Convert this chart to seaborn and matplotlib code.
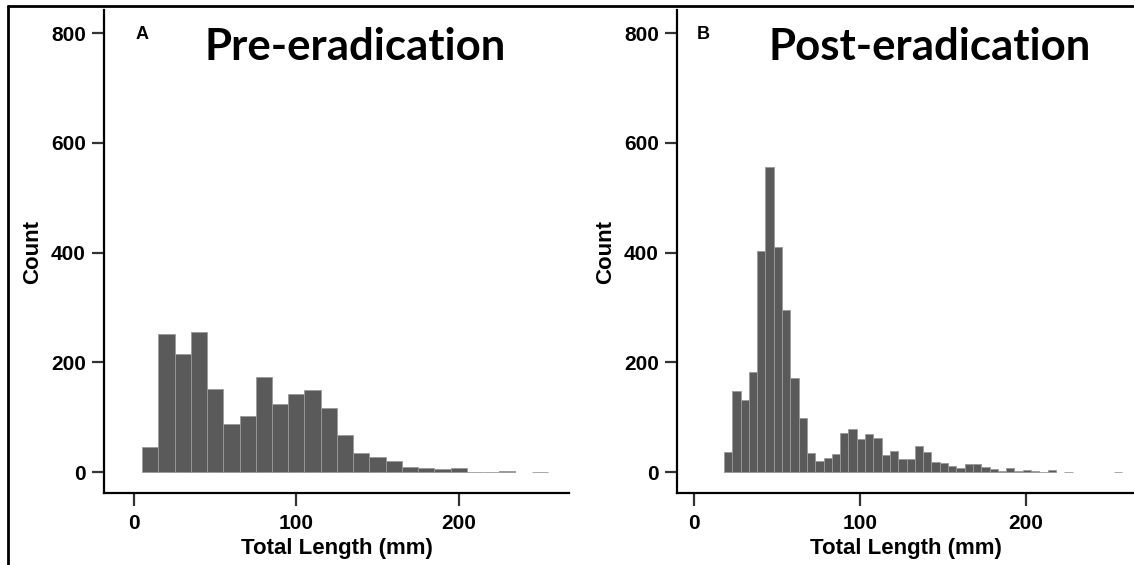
import numpy as np
import pandas as pd
import matplotlib
matplotlib.use("Agg")
import matplotlib.pyplot as plt
import seaborn as sns

# Pre-eradication counts, 10 mm bins starting at 5 mm
pre_start = 5
pre_width = 10
pre_counts = [45, 251, 216, 255, 152, 88, 103, 174, 124, 142, 150, 116, 68,
              35, 27, 21, 10, 8, 5, 7, 1, 1, 2, 0, 1]

# Post-eradication counts, 5 mm bins starting at 18 mm
post_start = 18
post_width = 5
post_counts = [36, 148, 132, 183, 403, 556, 411, 296, 171, 98, 35, 21, 26, 33,
               71, 79, 60, 70, 62, 32, 39, 24, 24, 47, 36, 19, 16, 12, 7, 15,
               15, 9, 5, 2, 8, 2, 3, 2, 1, 3, 0, 1, 0, 0, 0, 0, 0, 1]

panel_letters = ["A", "B"]
panel_titles = ["Pre-eradication", "Post-eradication"]
y_ticks = [0, 200, 400, 600, 800]
x_ticks = [0, 100, 200]

sns.set_style("ticks")
plt.rcParams["font.family"] = ["Liberation Sans", "DejaVu Sans"]
plt.rcParams["font.weight"] = "bold"
plt.rcParams["text.color"] = "black"
plt.rcParams["axes.labelcolor"] = "black"
plt.rcParams["xtick.labelcolor"] = "black"
plt.rcParams["ytick.labelcolor"] = "black"

W, H = 1134, 565
fig = plt.figure(figsize=(W / 100, H / 100), dpi=100)

# frame lines at the top and left of the figure
fig.add_artist(plt.Line2D([8 / W, 1], [1 - 6 / H, 1 - 6 / H], color="black", lw=2, transform=fig.transFigure))
fig.add_artist(plt.Line2D([8 / W, 8 / W], [0, 1 - 6 / H], color="black", lw=2, transform=fig.transFigure))

ax_a = fig.add_axes([104 / W, 1 - 493 / H, 465 / W, 483 / H])
ax_b = fig.add_axes([677 / W, 1 - 493 / H, 457 / W, 483 / H])

panels = [
    (ax_a, pre_start, pre_width, pre_counts, (-18.5, 268), 136, 205),
    (ax_b, post_start, post_width, post_counts, (-10.3, 265), 697, 768),
]

for i, (ax, start, width, counts, xlim, letter_x, title_x) in enumerate(panels):
    edges = [start + width * k for k in range(len(counts) + 1)]
    df = pd.DataFrame({"length": np.array(edges[:-1]) + width / 2, "n": counts})
    sns.histplot(data=df, x="length", weights="n", bins=edges, ax=ax, color="#5a5a5a",
                 alpha=1, edgecolor="#999999", linewidth=0.6)
    # empty bins draw nothing
    for p in ax.patches:
        if p.get_height() == 0:
            p.set_visible(False)
    ax.set_xlim(*xlim)
    ax.set_ylim(-38, 842)
    ax.set_yticks(y_ticks)
    ax.set_xticks(x_ticks)
    ax.set_xlabel("Total Length (mm)", fontsize=16, fontweight="bold", labelpad=4)
    ax.set_ylabel("Count", fontsize=16, fontweight="bold", labelpad=6)
    ax.tick_params(axis="both", length=9, width=1.6, color="#333333", labelsize=15, pad=4)
    ax.tick_params(axis="x", pad=6)
    for lab in ax.get_xticklabels() + ax.get_yticklabels():
        lab.set_fontweight("bold")
    sns.despine(ax=ax)
    for s in ["left", "bottom"]:
        ax.spines[s].set_linewidth(1.6)
        ax.spines[s].set_color("black")
    fig.text(letter_x / W, 1 - 39 / H, panel_letters[i], fontsize=13,
             fontweight="bold", va="baseline", ha="left")
    fig.text(title_x / W, 1 - 60 / H, panel_titles[i], fontsize=31.5,
             fontweight="bold", family=["Lato", "DejaVu Sans"], va="baseline", ha="left")

fig.savefig("out.png", dpi=100)
